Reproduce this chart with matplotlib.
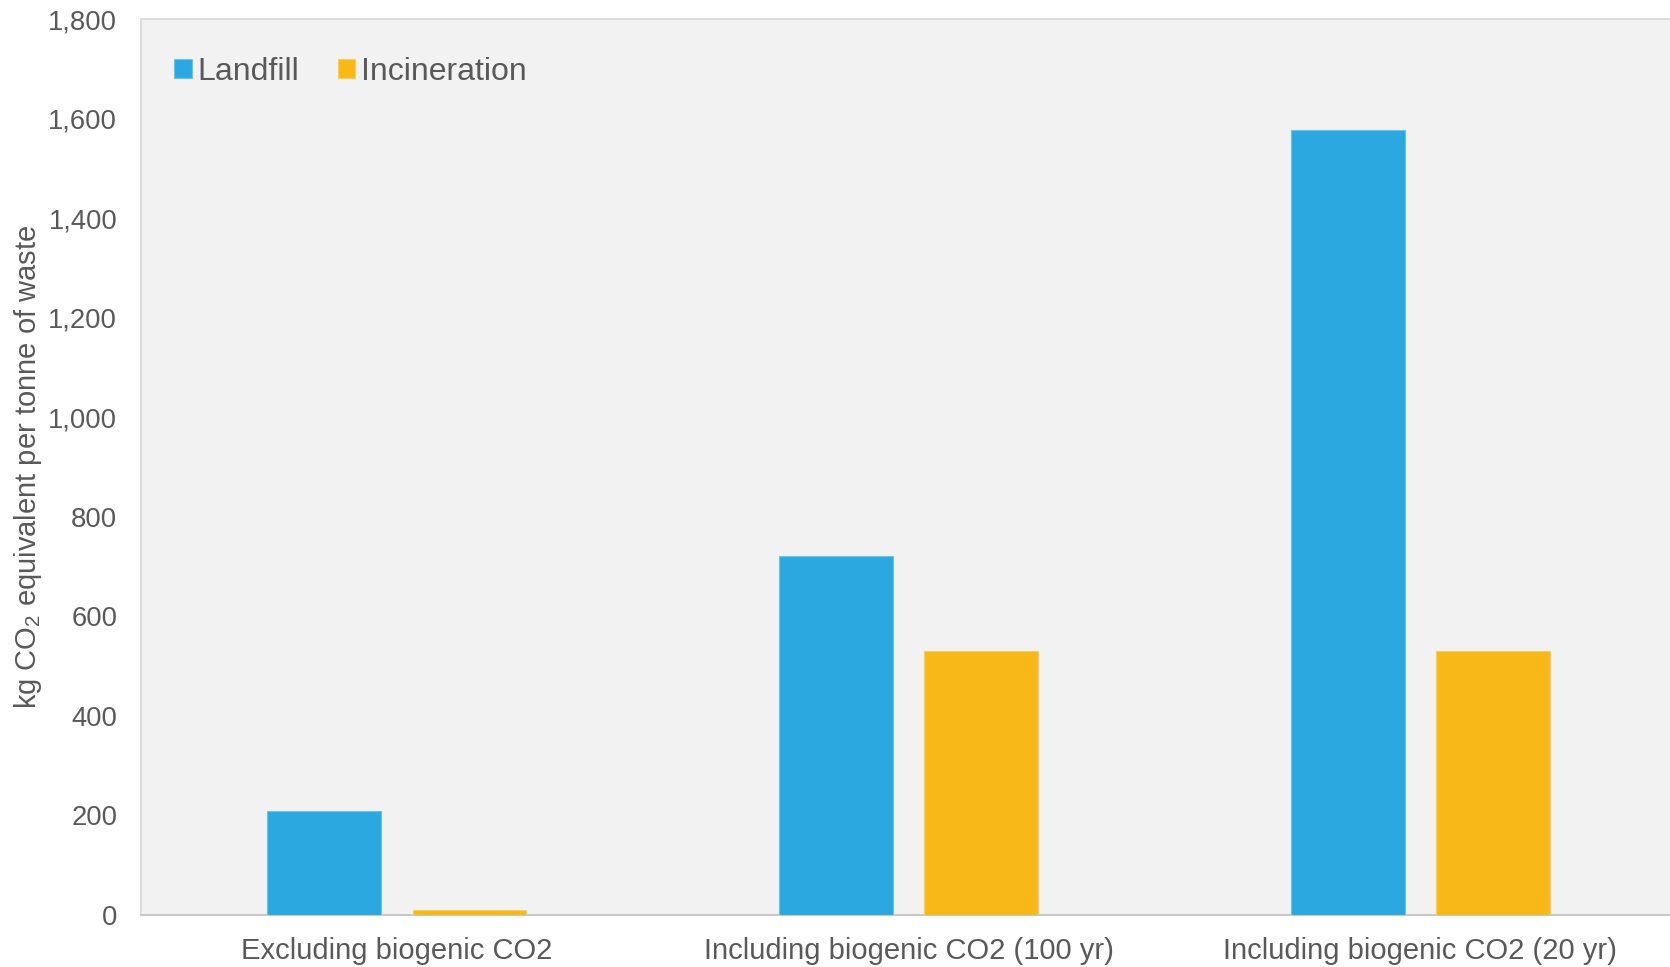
import matplotlib
matplotlib.use("Agg")
import matplotlib.pyplot as plt
import numpy as np

categories = ["Excluding biogenic CO2", "Including biogenic CO2 (100 yr)", "Including biogenic CO2 (20 yr)"]
landfill = [208, 721, 1577]
incineration = [9, 530, 530]
yticks = [0, 200, 400, 600, 800, 1000, 1200, 1400, 1600, 1800]

plt.rcParams['font.family'] = ['Liberation Sans', 'DejaVu Sans']
plt.rcParams['mathtext.fontset'] = 'custom'
plt.rcParams['mathtext.rm'] = 'Liberation Sans'
plt.rcParams['mathtext.it'] = 'Liberation Sans'

text_col = "#595959"
blue = "#2CA8E0"
yellow = "#F8B818"

fig = plt.figure(figsize=(16.7, 9.67), dpi=100)
ax = fig.add_axes([0.0843, 0.054, 0.9195, 0.926])
ax.set_facecolor("#f2f2f2")

x = np.arange(len(categories))
w = 0.222
off = 0.142
ax.bar(x - off, landfill, w, color=blue, edgecolor="#6cc3ea", linewidth=0.8, label="Landfill", zorder=3)
ax.bar(x + off, incineration, w, color=yellow, edgecolor="#fbcd5a", linewidth=0.8, label="Incineration", zorder=3)

ax.set_xlim(-0.5, 2.5)
ax.set_ylim(0, 1800)
ax.set_yticks(yticks)
ax.set_yticklabels([f"{v:,}" for v in yticks])
ax.set_xticks(x)
ax.set_xticklabels(categories, fontsize=21)
ax.tick_params(axis='both', length=0, colors=text_col)
ax.tick_params(axis='y', pad=17, labelsize=19.7)
ax.tick_params(axis='x', pad=16)

for s in ['left', 'top']:
    ax.spines[s].set_color("#d9d9d9")
    ax.spines[s].set_linewidth(1.2)
ax.spines['right'].set_visible(False)
ax.spines['bottom'].set_color("#c8c8c8")
ax.spines['bottom'].set_linewidth(1.5)

ax.set_ylabel("kg CO$_2$ equivalent per tonne of waste", color=text_col, fontsize=21, labelpad=3)

leg = ax.legend(loc="upper left", bbox_to_anchor=(0.003, 0.99), ncol=2, frameon=False,
                fontsize=23, handlelength=0.55, handleheight=0.55, handletextpad=0.18,
                columnspacing=1.2)
for t in leg.get_texts():
    t.set_color(text_col)

fig.savefig("out.png", dpi=100, facecolor="white")
